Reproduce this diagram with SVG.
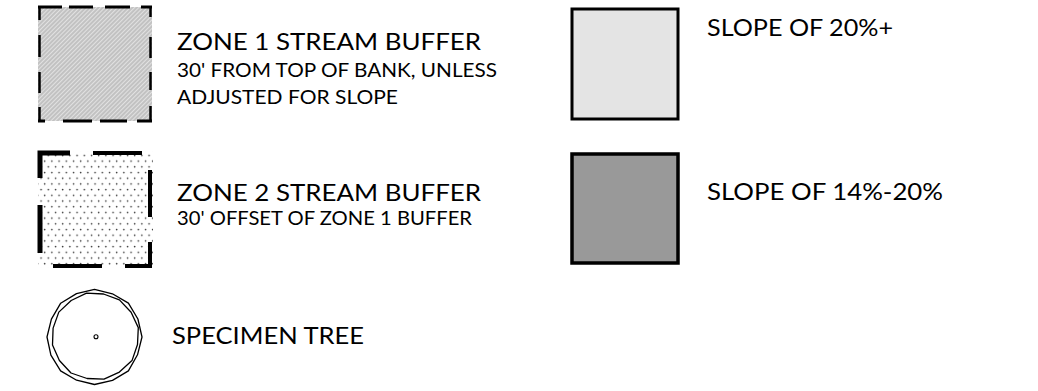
<svg xmlns="http://www.w3.org/2000/svg" width="1038" height="391" viewBox="0 0 1038 391">
<style>
.big{font-family:"Lato","Liberation Sans",sans-serif;font-size:23.5px;fill:#000}
.sm{font-family:"Lato","Liberation Sans",sans-serif;font-size:19px;fill:#000}
.dash{stroke:#000;fill:none;stroke-linecap:butt;stroke-linejoin:miter}
.ring{fill:#fff;stroke:#000;stroke-width:1.3;stroke-linejoin:round}
</style>
<defs>
<pattern id="hatch" width="3" height="3" patternUnits="userSpaceOnUse" patternTransform="rotate(-45)">
<rect width="3" height="3" fill="#c2c2c2"/>
<line x1="0" y1="1.5" x2="3" y2="1.5" stroke="#e4e4e4" stroke-width="0.9"/>
</pattern>
<pattern id="dots" width="7.2" height="11.4" patternUnits="userSpaceOnUse">
<rect width="7.2" height="11.4" fill="#fff"/>
<circle cx="1.5" cy="1.5" r="0.8" fill="#333"/>
<circle cx="5.1" cy="7.2" r="0.8" fill="#333"/>
</pattern>
</defs>
<rect width="1038" height="391" fill="#fff"/>
<g id="zone1">
<rect x="38" y="7" width="114" height="114" fill="url(#hatch)"/>
<g class="dash" stroke-width="3">
<path d="M38,7 H62 M69,7 H93 M105,7 H130 M141,7 H152"/>
<path d="M38,121 H45 M63,121 H92 M100,121 H127 M137,121 H152"/>
</g>
<g class="dash" stroke-width="2.5">
<path d="M39.5,7 V20 M39.5,35 V57 M39.5,72 V93 M39.5,107 V122"/>
<path d="M150.5,7 V17 M150.5,37 V58 M150.5,72 V90 M150.5,106 V122"/>
</g>
<text class="big" x="177" y="50" textLength="304" lengthAdjust="spacingAndGlyphs">ZONE 1 STREAM BUFFER</text>
<text class="sm" x="177" y="76.5" textLength="320" lengthAdjust="spacingAndGlyphs">30' FROM TOP OF BANK, UNLESS</text>
<text class="sm" x="177" y="104" textLength="221" lengthAdjust="spacingAndGlyphs">ADJUSTED FOR SLOPE</text>
</g>
<g id="zone2">
<rect x="38" y="151" width="115" height="117" fill="url(#dots)"/>
<g class="dash" stroke-width="4">
<path d="M40,178 V153 H70" stroke-width="5"/>
<path d="M93,153 H142"/>
<path d="M150,170 V217"/>
<path d="M150,242 V266 H125"/>
<path d="M53,266 H102"/>
<path d="M40,205 V253" stroke-width="5"/>
</g>
<text class="big" x="177" y="201" textLength="304" lengthAdjust="spacingAndGlyphs">ZONE 2 STREAM BUFFER</text>
<text class="sm" x="177" y="225" textLength="295" lengthAdjust="spacingAndGlyphs">30' OFFSET OF ZONE 1 BUFFER</text>
</g>
<g id="specimen-tree">
<polygon class="ring" points="142,337 137.5,354.8 128.4,370.9 112.5,380.4 94.5,384.5 76.6,380.2 60.6,370.9 50.9,355.1 47,337 51.4,319.2 60.7,303.2 76.5,293.6 94.5,289.4 112.4,293.8 128.4,303.1 137.9,319"/>
<polygon class="ring" points="137.5,344.5 132,360.6 119.4,372.1 104,379.2 87.1,378.5 71,373 59.4,360.5 52.5,345 53.1,328.1 58.8,312.1 71.2,300.5 86.5,293.2 103.5,294 119.4,299.9 131.1,312.2 138.3,327.6"/>
<circle cx="96" cy="336.7" r="2" fill="#fff" stroke="#000" stroke-width="1.1"/>
<text class="big" x="172" y="343.5" textLength="192" lengthAdjust="spacingAndGlyphs">SPECIMEN TREE</text>
</g>
<g id="slope-20-plus">
<rect x="572" y="9" width="106" height="110" fill="#e4e4e4" stroke="#000" stroke-width="3"/>
<text class="big" x="707" y="35.5" textLength="186" lengthAdjust="spacingAndGlyphs">SLOPE OF 20%+</text>
</g>
<g id="slope-14-20">
<rect x="572" y="154" width="106" height="109" fill="#999" stroke="#000" stroke-width="3.5"/>
<text class="big" x="707" y="199.5" textLength="236" lengthAdjust="spacingAndGlyphs">SLOPE OF 14%-20%</text>
</g>
<g id="connectors"/>
</svg>
